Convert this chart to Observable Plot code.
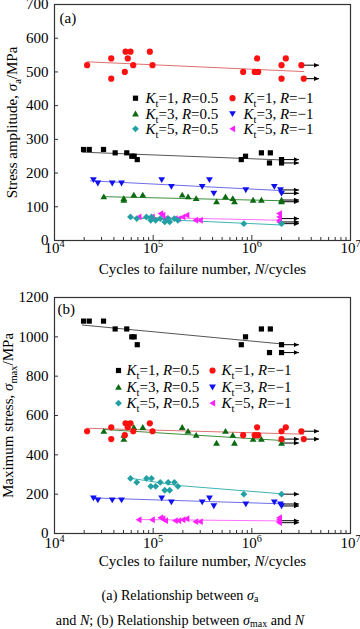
<!DOCTYPE html>
<html><head><meta charset="utf-8">
<script src="https://cdn.jsdelivr.net/npm/d3@7"></script>
<script src="https://cdn.jsdelivr.net/npm/@observablehq/plot@0.6"></script>
<style>
body{margin:0;background:#fff;width:360px;height:629px;overflow:hidden;font-family:"Liberation Serif","Times New Roman",serif;position:relative;}
#a,#b{position:absolute;left:0;}
#a{top:0px} #b{top:285px}
#cap{position:absolute;left:0;width:360px;top:583px;text-align:center;font-size:14.2px;line-height:25px;color:#000;}
#cap sub{font-size:70%;line-height:0;vertical-align:-0.25em;}
</style></head><body>
<div id="a"></div><div id="b"></div>
<div id="cap">(a) Relationship between <i>σ</i><sub>a</sub><br>and <i>N</i>; (b) Relationship between <i>σ</i><sub>max</sub> and <i>N</i></div>
<script>
// ---------- series & legend ----------
const S = ["K1R05","K1Rm1","K3R05","K3Rm1","K5R05","K5Rm1"];
const legendLabels = ["*K*_{t}=1, *R*=0.5","*K*_{t}=1, *R*=−1","*K*_{t}=3, *R*=0.5","*K*_{t}=3, *R*=−1","*K*_{t}=5, *R*=0.5","*K*_{t}=5, *R*=−1"];
const markColors = ["#000000","#ff1010","#0b6b12","#1010f0","#22a0a4","#ff20ff"];
const lineColors = ["#555555","#e07070","#3e8e3e","#6e6ee8","#40b4b4","#ff70ff"];

// ---------- data (N cycles, stress MPa) ----------
const N_K1R05 = [1.97e4,2.25e4,3.14e4,4.12e4,5.4e4,6.07e4,6.42e4,6.9e4,7.82e5,8.63e5,1.25e6,1.54e6,1.51e6,2.0e6,2.0e6];
const SA_K1R05 = [270,270,270,260,260,250,250,240,240,250,260,260,230,240,230];
const SMAX_K1R05 = [1080,1080,1080,1040,1040,1000,1000,960,960,1000,1040,1040,920,960,920];

const N_K1Rm1 = [2.14e4,3.76e4,3.76e4,5.25e4,5.89e4,5.53e4,5.16e4,6.28e4,9.25e4,9.85e4,8.17e5,1.07e6,1.16e6,1.13e6,2.0e6,2.21e6,2.0e6,3.18e6,3.36e6];
const SA_K1Rm1 = [520,540,480,560,560,540,500,520,560,520,500,500,500,540,520,540,480,520,480];
const SMAX_K1Rm1 = [520,540,480,560,560,540,500,520,560,520,500,500,500,540,520,540,480,520,480];

const N_K3R05 = [3.16e4,5.04e4,5.04e4,6.37e4,7.85e4,1.97e5,2.26e5,2.73e5,4.39e5,5.41e5,6.41e5,6.67e5,1.03e6,1.25e6,2.0e6,2.0e6];
const SA_K3R05 = [130,125,120,135,135,135,130,125,115,130,125,115,120,120,120,115];
const SMAX_K3R05 = [520,500,480,540,540,540,520,500,460,520,500,460,480,480,480,460];

const N_K3Rm1 = [2.48e4,2.75e4,3.85e4,4.78e4,1.22e5,1.53e5,3.14e5,3.72e5,4.12e5,8.69e5,1.69e6,1.95e6,2.0e6];
const SA_K3Rm1 = [180,170,170,170,180,160,160,180,140,150,160,150,140];
const SMAX_K3Rm1 = [180,170,170,170,180,160,160,180,140,150,160,150,140];

const N_K5R05 = [5.89e4,6.82e4,8.55e4,9.61e4,9.46e4,1.06e5,1.18e5,1.31e5,1.47e5,1.42e5,1.64e5,1.78e5,8.3e5,2.0e6];
const SA_K5R05 = [70,65,70,70,60,60,65,55,55,65,65,60,50,50];
const SMAX_K5R05 = [280,260,280,280,240,240,260,220,220,260,260,240,200,200];

const N_K5Rm1 = [7.16e4,9.78e4,1.19e5,1.25e5,1.33e5,1.67e5,1.81e5,2.0e5,2.19e5,2.69e5,3.0e5,1.9e6,1.9e6,1.9e6,1.9e6];
const SA_K5Rm1 = [70,70,80,75,65,65,65,70,75,60,60,80,70,60,55];
const SMAX_K5Rm1 = [70,70,80,75,65,65,65,70,75,60,60,80,70,60,55];

// fitted lines: [series, N, stress]
const fitA = [
  ["K1R05",1.91e4,262],["K1R05",2.0e6,239],
  ["K1Rm1",2.14e4,530],["K1Rm1",3.36e6,501],
  ["K3R05",3.16e4,130],["K3R05",2.0e6,118],
  ["K3Rm1",2.32e4,177],["K3Rm1",2.0e6,148],
  ["K5R05",5.9e4,67],["K5R05",1.8e5,60],["K5R05",2.0e6,46],
  ["K5Rm1",7.2e4,69],["K5Rm1",2.0e6,60]
];
const fitB = [
  ["K1R05",1.91e4,1060],["K1R05",2.0e6,964],
  ["K1Rm1",2.14e4,535],["K1Rm1",3.36e6,505],
  ["K3R05",3.16e4,529],["K3R05",2.0e6,473],
  ["K3Rm1",2.4e4,181],["K3Rm1",2.0e6,151],
  ["K5R05",5.9e4,281],["K5R05",1.78e5,244],["K5R05",2.0e6,202],
  ["K5Rm1",7.2e4,71],["K5Rm1",2.0e6,64]
];
// run-out arrows: [N start, N end, stress]
const arrowsA = [[2e6,3e6,240],[2e6,3e6,230],[3.18e6,4.8e6,520],[3.36e6,4.8e6,480],[2e6,3e6,120],[2e6,3e6,115],[2e6,3e6,150],[2e6,3e6,140],[2e6,3e6,50],[2e6,3e6,65],[2e6,3e6,55]];
const arrowsB = [[2e6,3e6,960],[2e6,3e6,920],[3.18e6,4.8e6,520],[3.36e6,4.8e6,480],[2e6,3e6,480],[2e6,3e6,460],[2e6,3e6,150],[2e6,3e6,140],[2e6,3e6,200],[2e6,3e6,65],[2e6,3e6,55]];

const xMajor = [1e4,1e5,1e6,1e7];
const xMinor = [1e4,1e5,1e6].flatMap(d => [2,3,4,5,6,7,8,9].map(k => k*d));
const yTicksA = [0,100,200,300,400,500,600,700];
const yTicksB = [0,200,400,600,800,1000,1200];
const xTitle = "Cycles to failure number, *N*/cycles";
const yTitleA = "Stress amplitude, *σ*_{a}/MPa";
const yTitleB = "Maximum stress, *σ*_{max}/MPa";

// ---------- symbols ----------
const sym = {
  square:{draw(c){c.moveTo(-2.6,-2.6);c.lineTo(2.6,-2.6);c.lineTo(2.6,2.6);c.lineTo(-2.6,2.6);c.closePath();}},
  circle:{draw(c){c.moveTo(3.1,0);c.arc(0,0,3.1,0,2*Math.PI);c.closePath();}},
  up:{draw(c){c.moveTo(0,-3.2);c.lineTo(3.4,2.6);c.lineTo(-3.4,2.6);c.closePath();}},
  down:{draw(c){c.moveTo(-3.4,-2.6);c.lineTo(3.4,-2.6);c.lineTo(0,3.2);c.closePath();}},
  diamond:{draw(c){c.moveTo(0,-3.4);c.lineTo(3.4,0);c.lineTo(0,3.4);c.lineTo(-3.4,0);c.closePath();}},
  left:{draw(c){c.moveTo(-3.2,0);c.lineTo(2.6,-3.4);c.lineTo(2.6,3.4);c.closePath();}},
  head:{draw(c){c.moveTo(0,0);c.lineTo(-5,-2.3);c.lineTo(-5,2.3);c.closePath();}}
};
const symOf = [sym.square, sym.circle, sym.up, sym.down, sym.diamond, sym.left];

function rows(n, v) { return n.map((d, i) => ({N: d, v: v[i]})); }
const dataA = [rows(N_K1R05,SA_K1R05),rows(N_K1Rm1,SA_K1Rm1),rows(N_K3R05,SA_K3R05),rows(N_K3Rm1,SA_K3Rm1),rows(N_K5R05,SA_K5R05),rows(N_K5Rm1,SA_K5Rm1)];
const dataB = [rows(N_K1R05,SMAX_K1R05),rows(N_K1Rm1,SMAX_K1Rm1),rows(N_K3R05,SMAX_K3R05),rows(N_K3Rm1,SMAX_K3Rm1),rows(N_K5R05,SMAX_K5R05),rows(N_K5Rm1,SMAX_K5Rm1)];

// rich text: *italic*, _{sub}, ^{sup}
function rich(svg) {
  svg.querySelectorAll("text").forEach(t => {
    const tr = t.getAttribute("transform") || "";
    if (/rotate/.test(tr)) t.setAttribute("text-anchor", "middle");
    const s = t.textContent;
    if (!/[*_^]/.test(s)) return;
    const fs = parseFloat(getComputedStyle(t).fontSize) || 15;
    while (t.firstChild) t.removeChild(t.firstChild);
    const re = /\*([^*]+)\*|_\{([^}]*)\}|\^\{([^}]*)\}|([^*_^]+)/g;
    let m, shift = 0;
    while ((m = re.exec(s))) {
      const ts = document.createElementNS("http://www.w3.org/2000/svg", "tspan");
      let target = 0;
      if (m[1] != null) { ts.textContent = m[1]; ts.setAttribute("font-style", "italic"); }
      else if (m[2] != null) { ts.textContent = m[2]; ts.setAttribute("font-size", (fs*0.7).toFixed(2)); target = 0.26*fs; }
      else if (m[3] != null) { ts.textContent = m[3]; ts.setAttribute("font-size", (fs*0.68).toFixed(2)); target = -0.42*fs; }
      else ts.textContent = m[4];
      const dy = target - shift;
      if (dy) ts.setAttribute("dy", dy.toFixed(2));
      shift = target;
      t.appendChild(ts);
    }
  });
}

function panel(o) {
  const marks = [
    Plot.frame({stroke: "#333", strokeWidth: 1.2}),
    Plot.tickY(o.yTicks, {y: d => d, insetRight: 292, stroke: "#333"}),
    Plot.tickX(xMajor, {x: d => d, insetTop: 231, stroke: "#333"}),
    Plot.tickX(xMinor, {x: d => d, insetTop: 233, stroke: "#333"}),
    Plot.axisY(o.yTicks, {tickSize: 0, tickPadding: 6, tickFormat: d => String(d), label: null, fill: "#000"}),
    Plot.axisX(xMajor, {tickSize: 0, tickPadding: o.xPad, tickFormat: d => `10^{${Math.round(Math.log10(d))}}`, label: null, fill: "#000"})
  ];
  S.forEach((s, i) => {
    marks.push(Plot.line(o.fit.filter(r => r[0] === s), {x: r => r[1], y: r => r[2], stroke: lineColors[i], strokeWidth: 1}));
  });
  marks.push(Plot.link(o.arrows, {x1: r => r[0], x2: r => r[1], y1: r => r[2], y2: r => r[2], stroke: "#000", strokeWidth: 1}));
  marks.push(Plot.dot(o.arrows, {x: r => r[1], y: r => r[2], symbol: sym.head, fill: "#000", stroke: "none", r: 3}));
  [5,4,3,2,1,0].forEach(i => {
    marks.push(Plot.dot(o.data[i], {x: "N", y: "v", symbol: symOf[i], fill: markColors[i], stroke: "none", r: 3}));
  });
  S.forEach((s, i) => {
    const col = i % 2, row = Math.floor(i / 2);
    marks.push(Plot.dot([0], {frameAnchor: "top-left", dx: o.legDx[col], dy: o.legDy[row], symbol: symOf[i], fill: markColors[i], stroke: "none", r: 3}));
    marks.push(Plot.text([legendLabels[i]], {text: d => d, frameAnchor: "top-left", dx: o.legTx[col], dy: o.legDy[row], textAnchor: "start", lineAnchor: "middle", fontSize: 15, fill: "#000"}));
  });
  marks.push(Plot.text([o.tag], {text: d => d, frameAnchor: "top-left", dx: o.tagDx, dy: o.tagDy, textAnchor: "start", lineAnchor: "middle", fontSize: 15, fill: "#000"}));
  marks.push(Plot.text([o.yTitle], {text: d => d, frameAnchor: "left", dx: o.yTitleDx, rotate: -90, textAnchor: "middle", fontSize: 15, fill: "#000"}));
  marks.push(Plot.text([xTitle], {text: d => d, frameAnchor: "bottom", dy: o.xTitleDy, fontSize: 15, fill: "#000"}));
  const svg = Plot.plot({
    width: 360, height: o.height,
    marginLeft: 54, marginRight: 10, marginTop: o.marginTop, marginBottom: 45,
    style: {fontFamily: '"Liberation Serif","Times New Roman",serif', fontSize: "15px", color: "#000", background: "#fff", overflow: "visible"},
    x: {type: "log", domain: [1e4, 1e7]},
    y: {domain: [0, o.yMax]},
    marks
  });
  document.getElementById(o.el).appendChild(svg);
  rich(svg);
}

panel({el: "a", height: 285, marginTop: 4, yMax: 700, yTicks: yTicksA, data: dataA, fit: fitA, arrows: arrowsA,
  tag: "(a)", tagDx: 5, tagDy: 13.5, yTitle: yTitleA, yTitleDx: -42, xPad: 2, xTitleDy: 33,
  legDx: [81, 178], legTx: [91, 189], legDy: [93.7, 109.3, 124.3]});
panel({el: "b", height: 293, marginTop: 12, yMax: 1200, yTicks: yTicksB, data: dataB, fit: fitB, arrows: arrowsB,
  tag: "(b)", tagDx: 3, tagDy: 11.5, yTitle: yTitleB, yTitleDx: -46, xPad: 4, xTitleDy: 32,
  legDx: [64, 158], legTx: [72, 167], legDy: [73, 89.7, 105.7]});
</script></body></html>
